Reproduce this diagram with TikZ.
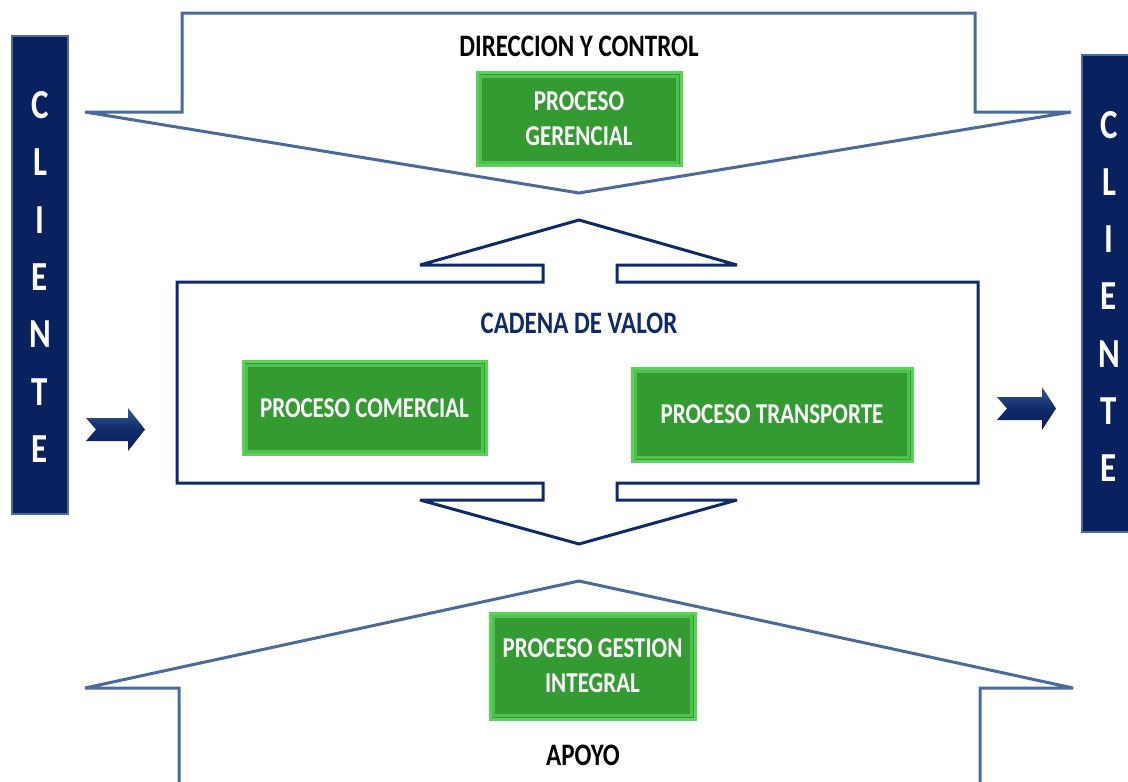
\documentclass[tikz,border=0pt]{standalone}
\usepackage{fontspec}
\setmainfont{Carlito}
\usepackage{graphicx}
\definecolor{steel}{HTML}{4A6B99}
\definecolor{navy}{HTML}{0E2A68}
\definecolor{barnavy}{HTML}{0A2160}
\definecolor{gdark}{HTML}{349A32}
\definecolor{glight}{HTML}{5AD25A}
\definecolor{arrowtop}{HTML}{3A5A90}
\newcommand{\ys}[1]{\scalebox{1}[1.25]{#1}}
\begin{document}
\begin{tikzpicture}[x=1pt,y=-1pt,
  outline/.style={draw=steel, line width=3pt, line join=miter, miter limit=4},
  chain/.style={draw=navy, line width=3pt, line join=miter, miter limit=4},
  greenbox/.style={rectangle, fill=gdark, draw=glight, line width=3pt, inner sep=0pt,
    text=white, font=\bfseries\fontsize{23}{35}\selectfont, align=center},
  title/.style={font=\bfseries\fontsize{25}{28}\selectfont, inner sep=0pt},
  letter/.style={text=white, font=\bfseries\fontsize{33}{36}\selectfont, inner sep=0pt},
  bar/.style={fill=barnavy, draw=steel, line width=1.5pt},
  chevron/.style={top color=arrowtop, bottom color=barnavy, middle color=navy, draw=none},
  bevel/.style={draw=glight!70!gdark, line width=3pt}
]
\useasboundingbox (0,0) rectangle (1128,782);
\begin{scope}
\clip (0,0) rectangle (1128,782);
% top shape
\draw[outline] (182,13) -- (975,13) -- (975,112) -- (1071,112) -- (579,193) -- (85,112) -- (182,112) -- cycle;
% middle shape
\draw[chain] (177,282) -- (543,282) -- (543,265) -- (420,265) -- (579,220) -- (737,265) -- (617,265) -- (617,282)
  -- (978,282) -- (978,483) -- (617,483) -- (617,500) -- (737,500) -- (579,544) -- (420,500) -- (543,500) -- (543,483)
  -- (177,483) -- cycle;
% bottom shape
\draw[outline] (179,795) -- (179,688) -- (85,688) -- (579,581) -- (1073,688) -- (980,688) -- (980,795);
% client bars
\draw[bar] (12,36) rectangle (68,514);
\draw[bar] (1082,55) rectangle (1140,532);
\end{scope}
\foreach \l [count=\i] in {C,L,I,E,N,T,E}{
  \node[letter] (cl\i) at (40,{105+57.4*(\i-1)}) {\ys{\l}};
  \node[letter] (cr\i) at (1109,{125+57.2*(\i-1)}) {\ys{\l}};
}
% chevron arrows
\shade[chevron] (86,418) -- (128,418) -- (128,408) -- (145,429.5) -- (128,451) -- (128,441) -- (86,441) -- (96,429.5) -- cycle;
\shade[chevron] (997,397) -- (1042,397) -- (1042,387) -- (1056,408.5) -- (1042,430) -- (1042,420) -- (997,420) -- (1007,408.5) -- cycle;
% titles
\node[title] (dir) at (579,46) {\ys{DIRECCION Y CONTROL}};
\node[title, text=navy] (cad) at (579,323) {\ys{CADENA DE VALOR}};
\node[title] (apo) at (583,755) {\ys{APOYO}};
% green boxes
\node[greenbox, minimum width=204pt, minimum height=93pt] (ger) at (579,119) {\ys{PROCESO}\\\ys{GERENCIAL}};
\node[greenbox, minimum width=243pt, minimum height=93pt] (com) at (364.5,408) {\ys{PROCESO COMERCIAL}};
\node[greenbox, minimum width=280pt, minimum height=93pt] (tra) at (772,414.5) {\ys{PROCESO TRANSPORTE}};
\node[greenbox, minimum width=205pt, minimum height=106pt] (ges) at (592.5,666) {\ys{PROCESO GESTION}\\\ys{INTEGRAL}};
\foreach \n in {ger,com,tra,ges}{
  \draw[bevel] ([shift={(5,5)}]\n.north west) rectangle ([shift={(-5,-5)}]\n.south east);
}
\end{tikzpicture}
\end{document}
